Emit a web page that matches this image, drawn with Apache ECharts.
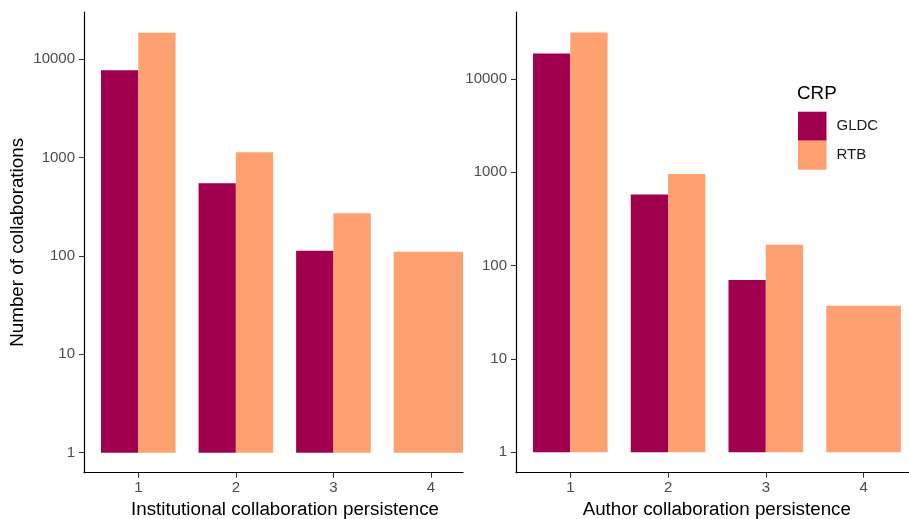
<!DOCTYPE html>
<html>
<head>
<meta charset="utf-8">
<script src="https://cdn.jsdelivr.net/npm/echarts@6/dist/echarts.min.js"></script>
<style>
html,body{margin:0;padding:0;background:#fff;}
#chart{width:909px;height:519px;}
</style>
</head>
<body>
<div id="chart"></div>
<script>
// ---- data ----
const categories = [1, 2, 3, 4];
const crpNames = ['GLDC', 'RTB'];
// Institutional collaboration persistence (left panel)
const instGLDC = [7700, 547, 113, null];
const instRTB = [18550, 1130, 271, 110];
// Author collaboration persistence (right panel)
const authGLDC = [18700, 577, 70, null];
const authRTB = [31400, 954, 167, 37];
const yTickValues = [1, 10, 100, 1000, 10000];
const yTickLabels = ['1', '10', '100', '1000', '10000'];
const xTitles = ['Institutional collaboration persistence', 'Author collaboration persistence'];
const yTitle = 'Number of collaborations';
const legendTitle = 'CRP';

// ---- style ----
const colGLDC = '#A1004E';
const colRTB = '#FFA070';
const labelColor = '#4d4d4d';
const fontFam = '"Liberation Sans", Arial, sans-serif';

// bars where both groups are present share the slot; a lone group fills the whole slot
function pairData(vals, other, lone) {
  const out = [];
  categories.forEach((c, i) => {
    if (vals[i] == null) return;
    const isLone = other[i] == null;
    if (isLone === lone) out.push([c, vals[i]]);
  });
  return out;
}
function loneCatData(vals, other) {
  const out = [];
  categories.forEach((c, i) => {
    if (vals[i] != null && other[i] == null) out.push([String(c), vals[i]]);
  });
  return out;
}

function xAxisDef(grid, min, max, title, namePad) {
  return {
    type: 'value', gridIndex: grid, min: min, max: max,
    splitLine: {show: false},
    axisLine: {show: true, onZero: false, lineStyle: {color: '#000', width: 1.2}},
    axisTick: {show: true, length: 5, lineStyle: {color: '#333'}, customValues: categories},
    axisLabel: {
      show: true, customValues: categories, margin: 8,
      color: labelColor, fontSize: 15, fontFamily: fontFam,
      formatter: v => String(Math.round(v))
    },
    name: title, nameLocation: 'middle', nameGap: 26,
    nameTextStyle: {color: '#000', fontSize: 18.8, fontFamily: fontFam, padding: namePad}
  };
}
function hiddenX(grid, min, max) {
  return {type: 'value', gridIndex: grid, min: min, max: max, show: false, splitLine: {show: false}};
}
function yAxisDef(grid, min, max, withName, show) {
  return {
    type: 'log', logBase: 10, gridIndex: grid, min: min, max: max, show: show,
    splitLine: {show: false},
    axisLine: {show: true, onZero: false, lineStyle: {color: '#000', width: 1.2}},
    axisTick: {show: true, length: 5, lineStyle: {color: '#333'}, customValues: yTickValues},
    axisLabel: {
      show: true, customValues: yTickValues, margin: 9,
      color: labelColor, fontSize: 15, fontFamily: fontFam,
      formatter: v => {
        const idx = yTickValues.findIndex(t => Math.abs(t - v) / t < 1e-6);
        return idx >= 0 ? yTickLabels[idx] : '';
      }
    },
    name: withName ? yTitle : '', nameLocation: 'middle', nameGap: 57,
    nameTextStyle: {color: '#000', fontSize: 18.8, fontFamily: fontFam}
  };
}

const BW = 37.3;
const chart = echarts.init(document.getElementById('chart'), null, {renderer: 'canvas'});
const L = {min: 0.4435, max: 4.328, ymin: 0.626, ymax: 30100};
const R = {min: 0.4444, max: 4.553, ymin: 0.604, ymax: 52000};
chart.setOption({
  animation: false,
  backgroundColor: '#fff',
  title: {
    text: legendTitle, left: 797, top: 84.5, padding: 0,
    textStyle: {fontSize: 18.8, fontWeight: 'normal', color: '#000', fontFamily: fontFam}
  },
  legend: {
    data: crpNames, orient: 'vertical', left: 798, top: 111.7, padding: 0,
    itemWidth: 28.5, itemHeight: 29, itemGap: 0, icon: 'rect',
    textStyle: {fontSize: 15, color: '#1a1a1a', fontFamily: fontFam, padding: [0, 0, 0, 5]}
  },
  grid: [
    {left: 84, top: 12, width: 379, bottom: 46.3, outerBoundsMode: 'none', containLabel: false},
    {left: 516, top: 12, right: -8.6, bottom: 46.3, outerBoundsMode: 'none', containLabel: false},
    // helper grid for the lone bar of the left panel (clipped at the panel edge like the reference)
    {left: 335, top: 12, width: 128, bottom: 46.3, outerBoundsMode: 'none', containLabel: false}
  ],
  xAxis: [
    xAxisDef(0, L.min, L.max, xTitles[0], [0, 0, 0, 23]),
    xAxisDef(1, R.min, R.max, xTitles[1], 0),
    hiddenX(1, R.min, R.max),
    {type: 'category', gridIndex: 2, data: categories.slice(2).map(String), show: false, boundaryGap: true}
  ],
  yAxis: [
    yAxisDef(0, L.ymin, L.ymax, true, true),
    yAxisDef(1, R.ymin, R.ymax, false, true),
    yAxisDef(2, L.ymin, L.ymax, false, false)
  ],
  series: [
    {type: 'bar', name: 'GLDC', xAxisIndex: 0, yAxisIndex: 0, data: pairData(instGLDC, instRTB, false),
     barWidth: BW, barGap: '0%', itemStyle: {color: colGLDC}},
    {type: 'bar', name: 'RTB', xAxisIndex: 0, yAxisIndex: 0, data: pairData(instRTB, instGLDC, false),
     barWidth: BW, barGap: '0%', itemStyle: {color: colRTB}},
    {type: 'bar', name: 'RTB', xAxisIndex: 3, yAxisIndex: 2, data: loneCatData(instRTB, instGLDC),
     barWidth: BW * 2, itemStyle: {color: colRTB}},
    {type: 'bar', name: 'GLDC', xAxisIndex: 1, yAxisIndex: 1, data: pairData(authGLDC, authRTB, false),
     barWidth: BW, barGap: '0%', itemStyle: {color: colGLDC}},
    {type: 'bar', name: 'RTB', xAxisIndex: 1, yAxisIndex: 1, data: pairData(authRTB, authGLDC, false),
     barWidth: BW, barGap: '0%', itemStyle: {color: colRTB}},
    {type: 'bar', name: 'RTB', xAxisIndex: 2, yAxisIndex: 1, data: pairData(authRTB, authGLDC, true),
     barWidth: BW * 2, itemStyle: {color: colRTB}}
  ]
});
</script>
</body>
</html>
